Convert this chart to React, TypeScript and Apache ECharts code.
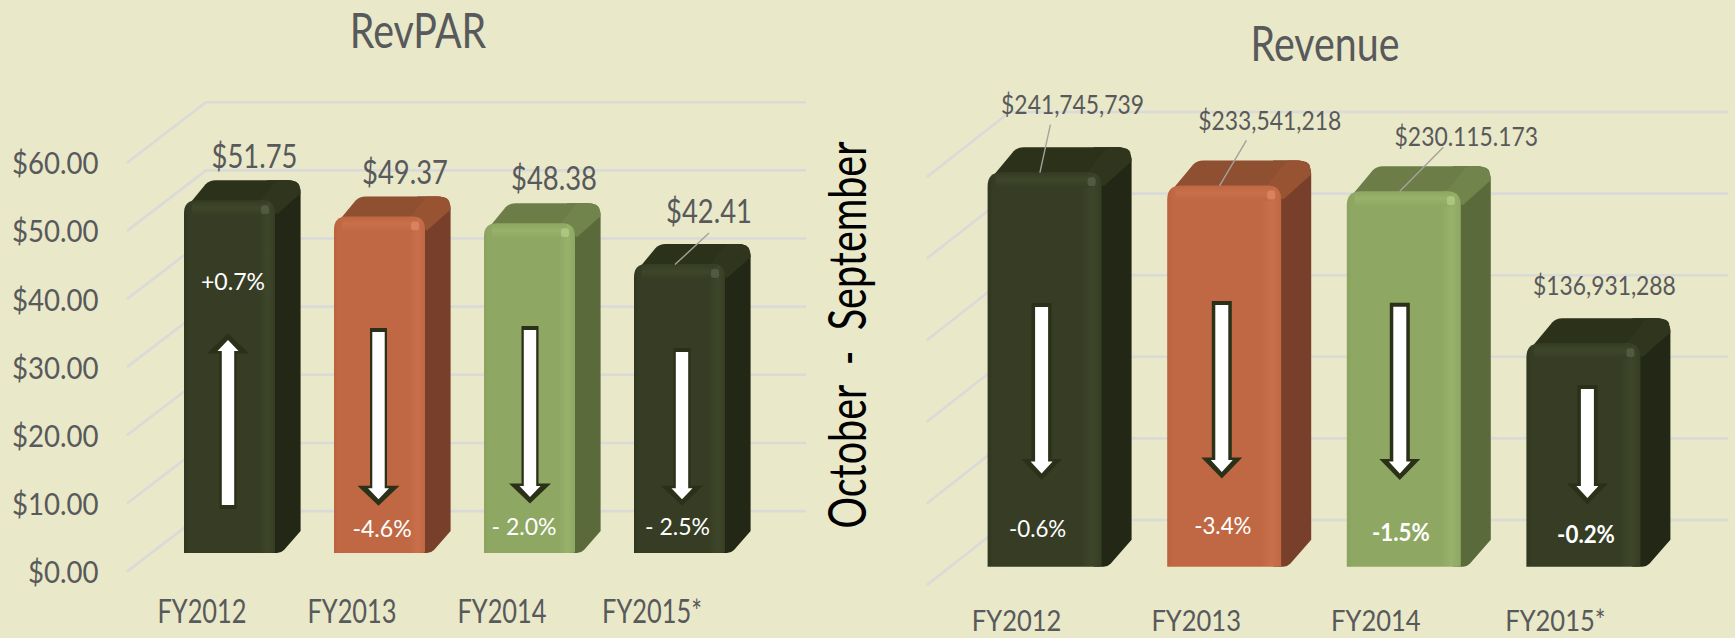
import React, { useEffect, useRef } from "react";
import * as echarts from "echarts";

const W = 1735;
const H = 638;

// ---- data ----
const categories = ["FY2012", "FY2013", "FY2014", "FY2015*"];
const revparValues = [51.75, 49.37, 48.38, 42.41];
const revenueValues = [241745739, 233541218, 230115173, 136931288];
const revparLabels = ["$51.75", "$49.37", "$48.38", "$42.41"];
const revenueLabels = ["$241,745,739", "$233,541,218", "$230.115.173", "$136,931,288"];
const revparChanges = ["+0.7%", "-4.6%", "- 2.0%", "- 2.5%"];
const revenueChanges = ["-0.6%", "-3.4%", "-1.5%", "-0.2%"];
const revparTicks = [0, 10, 20, 30, 40, 50, 60];
const revenueTicks = [0, 50000000, 100000000, 150000000, 200000000, 250000000];
const barKinds = ["dark", "orange", "green", "dark"];

// ---- styling ----
const FONT = 'Lato, "Liberation Sans", sans-serif';
const TEXT = "#58595b";
const BG = "#e9e8c8";
const GRID = "#dadad8";
const ARROW = "#2b3119";
const palette: Record<string, any> = {
  dark: { front: "#363d24", edge: "#30361f", hi: "#3e462a", glint: "#5a634a", top: "#2c3119", corner: "#30361d", side: "#222815" },
  orange: { front: "#c06843", edge: "#b9623c", hi: "#c96f4b", glint: "#e08a68", top: "#8f4f31", corner: "#985333", side: "#783f2a" },
  green: { front: "#8ea763", edge: "#89a25e", hi: "#98b26b", glint: "#b4cc89", top: "#6c7d48", corner: "#71844b", side: "#5a6a3a" },
};

// ---- layout of the two panels (pixels relative to each bar) ----
const leftPanel = {
  grid: { left: 127, top: 162.7, width: 600, height: 408.9 },
  offset: [27.5, 18.6],
  barWidth: 91,
  depth: [25.6, 20],
  radius: 13,
  grid3d: [79, 60.5],
  labelFont: 33,
  labelScale: 0.83,
  changeFont: 24,
  changeScale: 0.96,
  categoryFont: 33,
  categoryScale: 0.77,
  categoryY: 610,
  labelAt: [[25, 45.5], [25.5, 45.5], [24.5, 46.5], [29.5, 54.5]],
  changeAt: [[3.5, 272.3], [2.5, 25], [-5.5, 27], [-2, 27]],
  changeBold: [false, false, false, false],
  leaders: [null, null, null, [29.5, -31, -4.5, 0.6]],
  // [centre offset, tail above base, tip above base]
  arrows: [[-1.5, 44, 219.4], [-1, 225, 47.3], [0.5, 227, 49.4], [2.5, 205, 47.3]],
  arrowSize: { outerShaft: 8.5, outerHead: 21, headLen: 20, innerShaft: 6.2, innerHead: 10.5, inset: 4 },
};
const rightPanel = {
  grid: { left: 926.8, top: 177, width: 718.4, height: 408 },
  offset: [28, 18.3],
  barWidth: 114,
  depth: [30, 25],
  radius: 14,
  grid3d: [83, 65],
  labelFont: 26,
  labelScale: 0.88,
  changeFont: 24,
  changeScale: 0.93,
  categoryFont: 29,
  categoryScale: 0.88,
  categoryY: 620,
  labelAt: [[28, 68.6], [45.6, 65.6], [62.5, 55], [21, 58]],
  changeAt: [[-7, 38.7], [-1.4, 41.7], [-3, 34.7], [2.6, 32.7]],
  changeBold: [false, false, true, true],
  leaders: [[5.8, -47.5, -4.7, 0.5], [22.2, -45.2, -4.7, 0.4], [39.5, -44, -4, 0], null],
  arrows: [[-3, 263.7, 86.7], [-2.4, 265.7, 88.3], [-4, 264, 86.7], [4, 181.7, 62.2]],
  arrowSize: { outerShaft: 10, outerHead: 20.5, headLen: 21, innerShaft: 6.5, innerHead: 11, inset: 4 },
};
const TICK_FONT = 31;
const TICK_SCALE = 0.89;
const TICK_RIGHT = 98.5;

function narrowText(text: string, x: number, y: number, size: number, scale: number, fill: string, align = "center", bold = false) {
  return {
    type: "text",
    x,
    y,
    scaleX: scale,
    style: {
      text,
      x: 0,
      y: 0,
      align,
      verticalAlign: "middle",
      fill,
      font: `${bold ? "bold " : ""}${size}px ${FONT}`,
    },
  };
}

function arrowPoints(cx: number, tail: number, tip: number, shaft: number, head: number, headLen: number) {
  const dir = tip > tail ? -1 : 1; // page coordinates: up arrow has tip above tail
  const base = tip + dir * headLen;
  return [
    [cx - shaft, tail],
    [cx - shaft, base],
    [cx - head, base],
    [cx, tip],
    [cx + head, base],
    [cx + shaft, base],
    [cx + shaft, tail],
  ];
}

function makeBarRenderer(panel: any, kinds: string[], labels: string[], changes: string[]) {
  return (params: any, api: any) => {
    const i = params.dataIndex;
    const c = palette[kinds[i]];
    const top = api.coord([api.value(0), api.value(1)]);
    const zero = api.coord([api.value(0), 0]);
    const cx = top[0] + panel.offset[0];
    const yT = top[1] - panel.offset[1];
    const yB = zero[1] - panel.offset[1];
    const x0 = cx - panel.barWidth / 2;
    const x1 = cx + panel.barWidth / 2;
    const [dx, dy] = panel.depth;
    const r = panel.radius;

    const side = `M${x1 - 8} ${yB} L${x1 + 2} ${yB} Q${x1 + 6} ${yB} ${x1 + 9} ${yB - 3} L${x1 + dx} ${yB - dy - 2}
      L${x1 + dx} ${yT - dy + r} Q${x1 + dx} ${yT - dy} ${x1 + dx - r} ${yT - dy} L${x1 - 8} ${yT - dy} Z`;
    const topFace = `M${x0 + 1} ${yT + 9} L${x0 + dx - 4} ${yT - dy + 4} Q${x0 + dx} ${yT - dy} ${x0 + dx + 6} ${yT - dy}
      L${x1 + dx - r} ${yT - dy} Q${x1 + dx - 2} ${yT - dy} ${x1 + dx - 1} ${yT - dy + 6} L${x1 - 2} ${yT + 8} Z`;
    const corner = `M${x1 - 16} ${yT + 2} L${x1 + dx - 24} ${yT - dy} L${x1 + dx - r} ${yT - dy} Q${x1 + dx} ${yT - dy} ${x1 + dx} ${yT - dy + r}
      L${x1 + 2} ${yT + 14} Z`;
    const front = `M${x0} ${yB} L${x0} ${yT + r} Q${x0} ${yT} ${x0 + r} ${yT} L${x1 - r} ${yT} Q${x1} ${yT} ${x1} ${yT + r} L${x1} ${yB - 1} Q${x1} ${yB} ${x1 - 3} ${yB} Z`;

    const children: any[] = [
      { type: "path", shape: { pathData: side }, style: { fill: c.side } },
      { type: "path", shape: { pathData: topFace }, style: { fill: c.top } },
      { type: "path", shape: { pathData: corner }, style: { fill: c.corner } },
      {
        type: "path",
        shape: { pathData: front },
        style: {
          fill: new echarts.graphic.LinearGradient(0, 0, 1, 0, [
            { offset: 0, color: c.edge },
            { offset: 0.05, color: c.front },
            { offset: 0.82, color: c.front },
            { offset: 0.92, color: c.hi },
            { offset: 1, color: c.front },
          ]),
        },
      },
      {
        type: "rect",
        shape: { x: x0 + 8, y: yT + 1, width: x1 - x0 - 16, height: 14 },
        style: {
          fill: new echarts.graphic.LinearGradient(0, 0, 0, 1, [
            { offset: 0, color: c.front },
            { offset: 0.45, color: c.hi },
            { offset: 1, color: c.front },
          ]),
        },
      },
      {
        type: "rect",
        shape: { x: x1 - 14, y: yT + 5, width: 8, height: 9, r: 3 },
        style: { fill: c.glint, opacity: 0.75 },
      },
    ];

    // leader from the value label to the bar
    const leader = panel.leaders[i];
    if (leader) {
      children.push({
        type: "line",
        shape: { x1: cx + leader[0], y1: yT + leader[1], x2: cx + leader[2], y2: yT + leader[3] },
        style: { stroke: "#a3a39c", lineWidth: 1.4 },
      });
    }

    // change arrow
    const [ao, tailUp, tipUp] = panel.arrows[i];
    const s = panel.arrowSize;
    const ax = cx + ao;
    const tail = yB - tailUp;
    const tip = yB - tipUp;
    const dirDown = tip > tail ? 1 : -1;
    children.push({
      type: "polygon",
      shape: { points: arrowPoints(ax, tail, tip, s.outerShaft, s.outerHead, s.headLen) },
      style: { fill: ARROW },
    });
    children.push({
      type: "polygon",
      shape: {
        points: arrowPoints(
          ax,
          tail + dirDown * s.inset,
          tip - dirDown * (s.inset + 2.5),
          s.innerShaft,
          s.innerHead,
          s.headLen - 9
        ),
      },
      style: { fill: "#ffffff" },
    });

    const la = panel.labelAt[i];
    children.push(narrowText(labels[i], cx + la[0], yT - la[1], panel.labelFont, panel.labelScale, TEXT));

    const ca = panel.changeAt[i];
    children.push(narrowText(changes[i], cx + ca[0], yB - ca[1], panel.changeFont, panel.changeScale, "#ffffff", "center", panel.changeBold[i]));

    children.push(narrowText(categories[i], top[0], panel.categoryY, panel.categoryFont, panel.categoryScale, TEXT));

    return { type: "group", children };
  };
}

function makeGridRenderer(panel: any, showLabels: boolean) {
  return (params: any, api: any) => {
    const value = api.value(1);
    const y = api.coord([0, value])[1];
    const x = params.coordSys.x;
    const w = params.coordSys.width;
    const [dx, dy] = panel.grid3d;
    const children: any[] = [
      {
        type: "polyline",
        shape: { points: [[x, y], [x + dx, y - dy], [x + w + dx, y - dy]] },
        style: { stroke: GRID, lineWidth: 2.6, fill: "none" },
      },
    ];
    if (showLabels) {
      children.push(narrowText(`$${value.toFixed(2)}`, TICK_RIGHT, y - 0.5, TICK_FONT, TICK_SCALE, TEXT, "right"));
    }
    return { type: "group", children };
  };
}

const hiddenCategory = { axisLine: { show: false }, axisTick: { show: false }, axisLabel: { show: false } };
const hiddenValue = { axisLine: { show: false }, axisTick: { show: false }, splitLine: { show: false }, axisLabel: { show: false } };

export default function App() {
  const ref = useRef<HTMLDivElement>(null);

  useEffect(() => {
    document.body.style.margin = "0";
    const chart = echarts.init(ref.current!, null, { renderer: "svg" });
    chart.setOption({
      animation: false,
      backgroundColor: BG,
      grid: [leftPanel.grid, rightPanel.grid],
      xAxis: [
        { type: "category", gridIndex: 0, data: categories, ...hiddenCategory },
        { type: "category", gridIndex: 1, data: categories, ...hiddenCategory },
      ],
      yAxis: [
        { type: "value", gridIndex: 0, min: 0, max: 60, interval: 10, ...hiddenValue },
        { type: "value", gridIndex: 1, min: 0, max: 250000000, interval: 50000000, ...hiddenValue },
      ],
      series: [
        {
          type: "custom",
          name: "RevPAR grid",
          xAxisIndex: 0,
          yAxisIndex: 0,
          z: 1,
          silent: true,
          data: revparTicks.map((t) => [0, t]),
          encode: { x: 0, y: 1 },
          renderItem: makeGridRenderer(leftPanel, true),
        },
        {
          type: "custom",
          name: "Revenue grid",
          xAxisIndex: 1,
          yAxisIndex: 1,
          z: 1,
          silent: true,
          data: revenueTicks.map((t) => [0, t]),
          encode: { x: 0, y: 1 },
          renderItem: makeGridRenderer(rightPanel, false),
        },
        {
          type: "custom",
          name: "RevPAR",
          xAxisIndex: 0,
          yAxisIndex: 0,
          z: 2,
          data: revparValues.map((v, i) => [i, v]),
          encode: { x: 0, y: 1 },
          renderItem: makeBarRenderer(leftPanel, barKinds, revparLabels, revparChanges),
        },
        {
          type: "custom",
          name: "Revenue",
          xAxisIndex: 1,
          yAxisIndex: 1,
          z: 2,
          data: revenueValues.map((v, i) => [i, v]),
          encode: { x: 0, y: 1 },
          renderItem: makeBarRenderer(rightPanel, barKinds, revenueLabels, revenueChanges),
        },
      ],
      graphic: [
        { ...narrowText("RevPAR", 418, 29, 48, 0.82, TEXT) },
        { ...narrowText("Revenue", 1325, 42, 48, 0.82, TEXT) },
        {
          type: "text",
          x: 846,
          y: 335,
          rotation: Math.PI / 2,
          scaleX: 0.76,
          style: {
            text: "October  -  September",
            x: 0,
            y: 0,
            align: "center",
            verticalAlign: "middle",
            fill: "#000000",
            font: '52px Lato, "DejaVu Sans", sans-serif',
          },
        },
      ],
    });
    return () => chart.dispose();
  }, []);

  return <div ref={ref} style={{ width: W, height: H }} />;
}
